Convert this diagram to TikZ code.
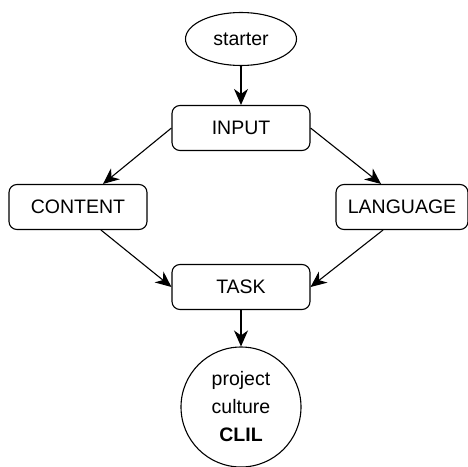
\documentclass[tikz,border=0pt]{standalone}
\usepackage{fontspec}
\setmainfont{Liberation Sans}
\usetikzlibrary{arrows.meta,positioning,shapes.geometric}

\begin{document}
\begin{tikzpicture}[>={Stealth[length=16pt,width=14pt,inset=5pt]}, on grid, line width=1.1pt,
  font=\fontsize{19.5}{28}\selectfont,
  box/.style={draw, rounded corners=8pt, minimum width=138pt, minimum height=45pt, inner sep=0pt},
  ovalbox/.style={draw, ellipse, minimum width=111pt, minimum height=53pt, inner sep=0pt},
  roundbox/.style={draw, circle, minimum size=120pt, inner sep=0pt, align=center}]
  \useasboundingbox (0,0) rectangle (468pt,-466pt);
  \node[ovalbox]   (starter)  at (241pt,-39pt) {starter};
  \node[box]       (input)    [below=89pt of starter] {INPUT};
  \node[box]       (content)  [below left=79pt and 163pt of input] {CONTENT};
  \node[box, minimum width=132pt] (language) [below right=79pt and 161pt of input] {LANGUAGE};
  \node[box]       (task)     [below=159pt of input] {TASK};
  \node[roundbox]  (clil)     [below=120pt of task] {project\\culture\\\textbf{CLIL}};

  \path[->]  (starter) edge (input)
             (input.west) edge ([xshift=25pt]content.north)
             (input.east) edge ([xshift=-21pt]language.north)
             ([xshift=23pt]content.south) edge (task.west)
             ([xshift=-19pt]language.south) edge (task.east)
             (task) edge (clil);
\end{tikzpicture}
\end{document}
